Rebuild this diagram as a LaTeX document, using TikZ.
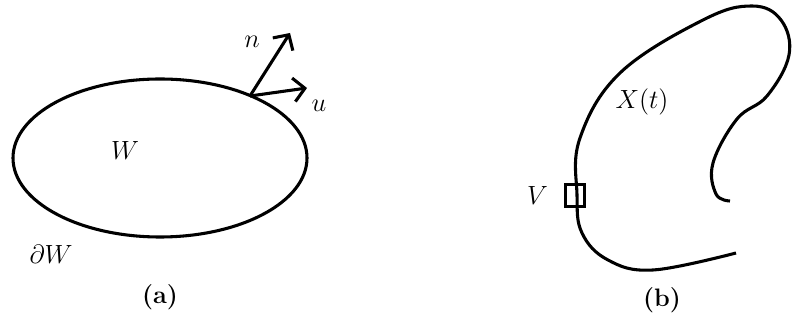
\documentclass[tikz,border=0pt]{standalone}
\usetikzlibrary{arrows.meta,positioning}

\begin{document}
\begin{tikzpicture}[
    x=0.016cm, y=-0.016cm,
    curve/.style={line width=1.4pt},
    vec/.style={line width=1.4pt, -{Straight Barb[length=1.8mm, width=3.8mm, line width=1.4pt]}},
    lbl/.style={font=\fontsize{11.5}{14}\selectfont, inner sep=1pt},
    sublabel/.style={font=\fontsize{11.5}{14}\selectfont\bfseries},
    probe/.style={rectangle, draw, line width=1.4pt, minimum width=0.31cm,
                  minimum height=0.36cm, inner sep=0pt}
]
  \useasboundingbox (0,0) rectangle (792,327);

  % (a) domain W with normal and velocity
  \draw[curve] (160,158) ellipse (147 and 79);
  \coordinate (base) at (250,96);
  \coordinate (ntip) at (290,33);
  \coordinate (utip) at (307,88);
  \draw[vec] (base) -- (ntip);
  \draw[vec] (base) -- (utip);
  \node[lbl] (n) at (252,42) {$n$};
  \node[lbl] (u) at (319,106) {$u$};
  \node[lbl] (W) at (125,151) {$W$};
  \node[lbl] (dW) at (51,254) {$\partial W$};
  \node[sublabel] (capa) at (160,297) {(a)};

  % (b) curve X(t) with box V
  \draw[curve] plot[smooth, tension=0.65] coordinates {
    (736,253) (653,270) (608,260) (582,233) (577,195) (580,138) (620,73)
    (703,20) (752,6) (781,20) (789,55) (767,96) (737,119)
    (713,163) (716,194) (730,201)};
  \node[probe] (box) at (575,195.5) {};
  \node[lbl, left=6pt of box] (V) {$V$};
  \node[lbl] (X) at (642,102) {$X(t)$};
  \node[sublabel] (capb) at (662,300) {(b)};
\end{tikzpicture}
\end{document}
